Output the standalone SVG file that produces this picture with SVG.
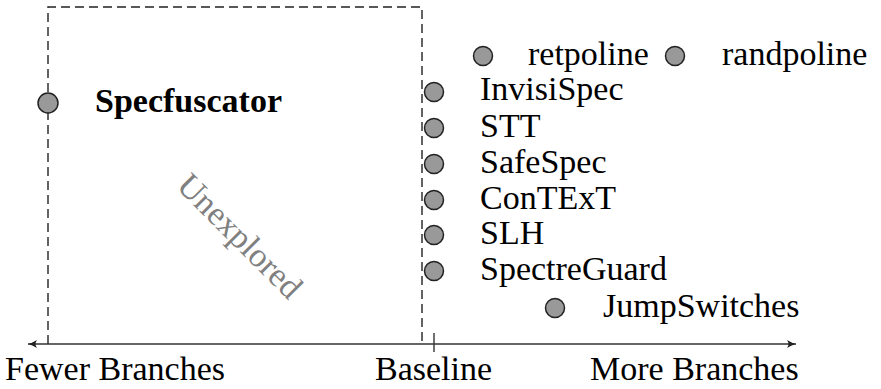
<svg xmlns="http://www.w3.org/2000/svg" width="881" height="389" viewBox="0 0 881 389">
<style>
.t{font-size:34px;fill:#000}
.dot{fill:#999;stroke:#222;stroke-width:1.5}
.dash{fill:none;stroke:#222;stroke-width:1.4;stroke-dasharray:9,5}
.axis{stroke:#333;stroke-width:1.4;fill:none}
</style>
<defs>
<marker id="ah" viewBox="0 0 10 10" refX="9" refY="5" markerWidth="10" markerHeight="10" markerUnits="userSpaceOnUse" orient="auto-start-reverse">
<path d="M0,1 Q5,4 9,5 Q5,6 0,9 Q3,5 0,1Z" fill="#222"/>
</marker>
</defs>
<g id="region">
<path class="dash" d="M48,344 V7 H422 V344"/>
<text class="t" font-family="Liberation Serif" x="232" y="244" text-anchor="middle" transform="rotate(45 232 244)" style="fill:#808080">Unexplored</text>
</g>
<g id="connectors">
<line class="axis" x1="28" y1="344" x2="796" y2="344" marker-start="url(#ah)" marker-end="url(#ah)"/>
<line class="axis" x1="434" y1="333" x2="434" y2="352"/>
</g>
<g id="specfuscator"><circle class="dot" cx="48" cy="103" r="10"/><text class="t" font-family="Liberation Serif" font-weight="bold" x="95" y="112">Specfuscator</text></g>
<g id="retpoline"><circle class="dot" cx="483" cy="56" r="9.5"/><text class="t" font-family="Liberation Serif" x="528" y="65">retpoline</text></g>
<g id="randpoline"><circle class="dot" cx="675" cy="56" r="9.5"/><text class="t" font-family="Liberation Serif" x="722" y="65">randpoline</text></g>
<g id="invisispec"><circle class="dot" cx="434" cy="92" r="9.5"/><text class="t" font-family="Liberation Serif" x="480" y="100">InvisiSpec</text></g>
<g id="stt"><circle class="dot" cx="434" cy="128" r="9.5"/><text class="t" font-family="Liberation Serif" x="480" y="137">STT</text></g>
<g id="safespec"><circle class="dot" cx="434" cy="164" r="9.5"/><text class="t" font-family="Liberation Serif" x="480" y="173">SafeSpec</text></g>
<g id="context"><circle class="dot" cx="434" cy="200" r="9.5"/><text class="t" font-family="Liberation Serif" x="480" y="209">ConTExT</text></g>
<g id="slh"><circle class="dot" cx="434" cy="235" r="9.5"/><text class="t" font-family="Liberation Serif" x="480" y="244">SLH</text></g>
<g id="spectreguard"><circle class="dot" cx="434" cy="271" r="9.5"/><text class="t" font-family="Liberation Serif" x="480" y="280">SpectreGuard</text></g>
<g id="jumpswitches"><circle class="dot" cx="555" cy="308" r="9.5"/><text class="t" font-family="Liberation Serif" x="603" y="317">JumpSwitches</text></g>
<g id="labels">
<text class="t" font-family="Liberation Serif" x="5" y="380">Fewer Branches</text>
<text class="t" font-family="Liberation Serif" x="375" y="380">Baseline</text>
<text class="t" font-family="Liberation Serif" x="590" y="380">More Branches</text>
</g>
</svg>
